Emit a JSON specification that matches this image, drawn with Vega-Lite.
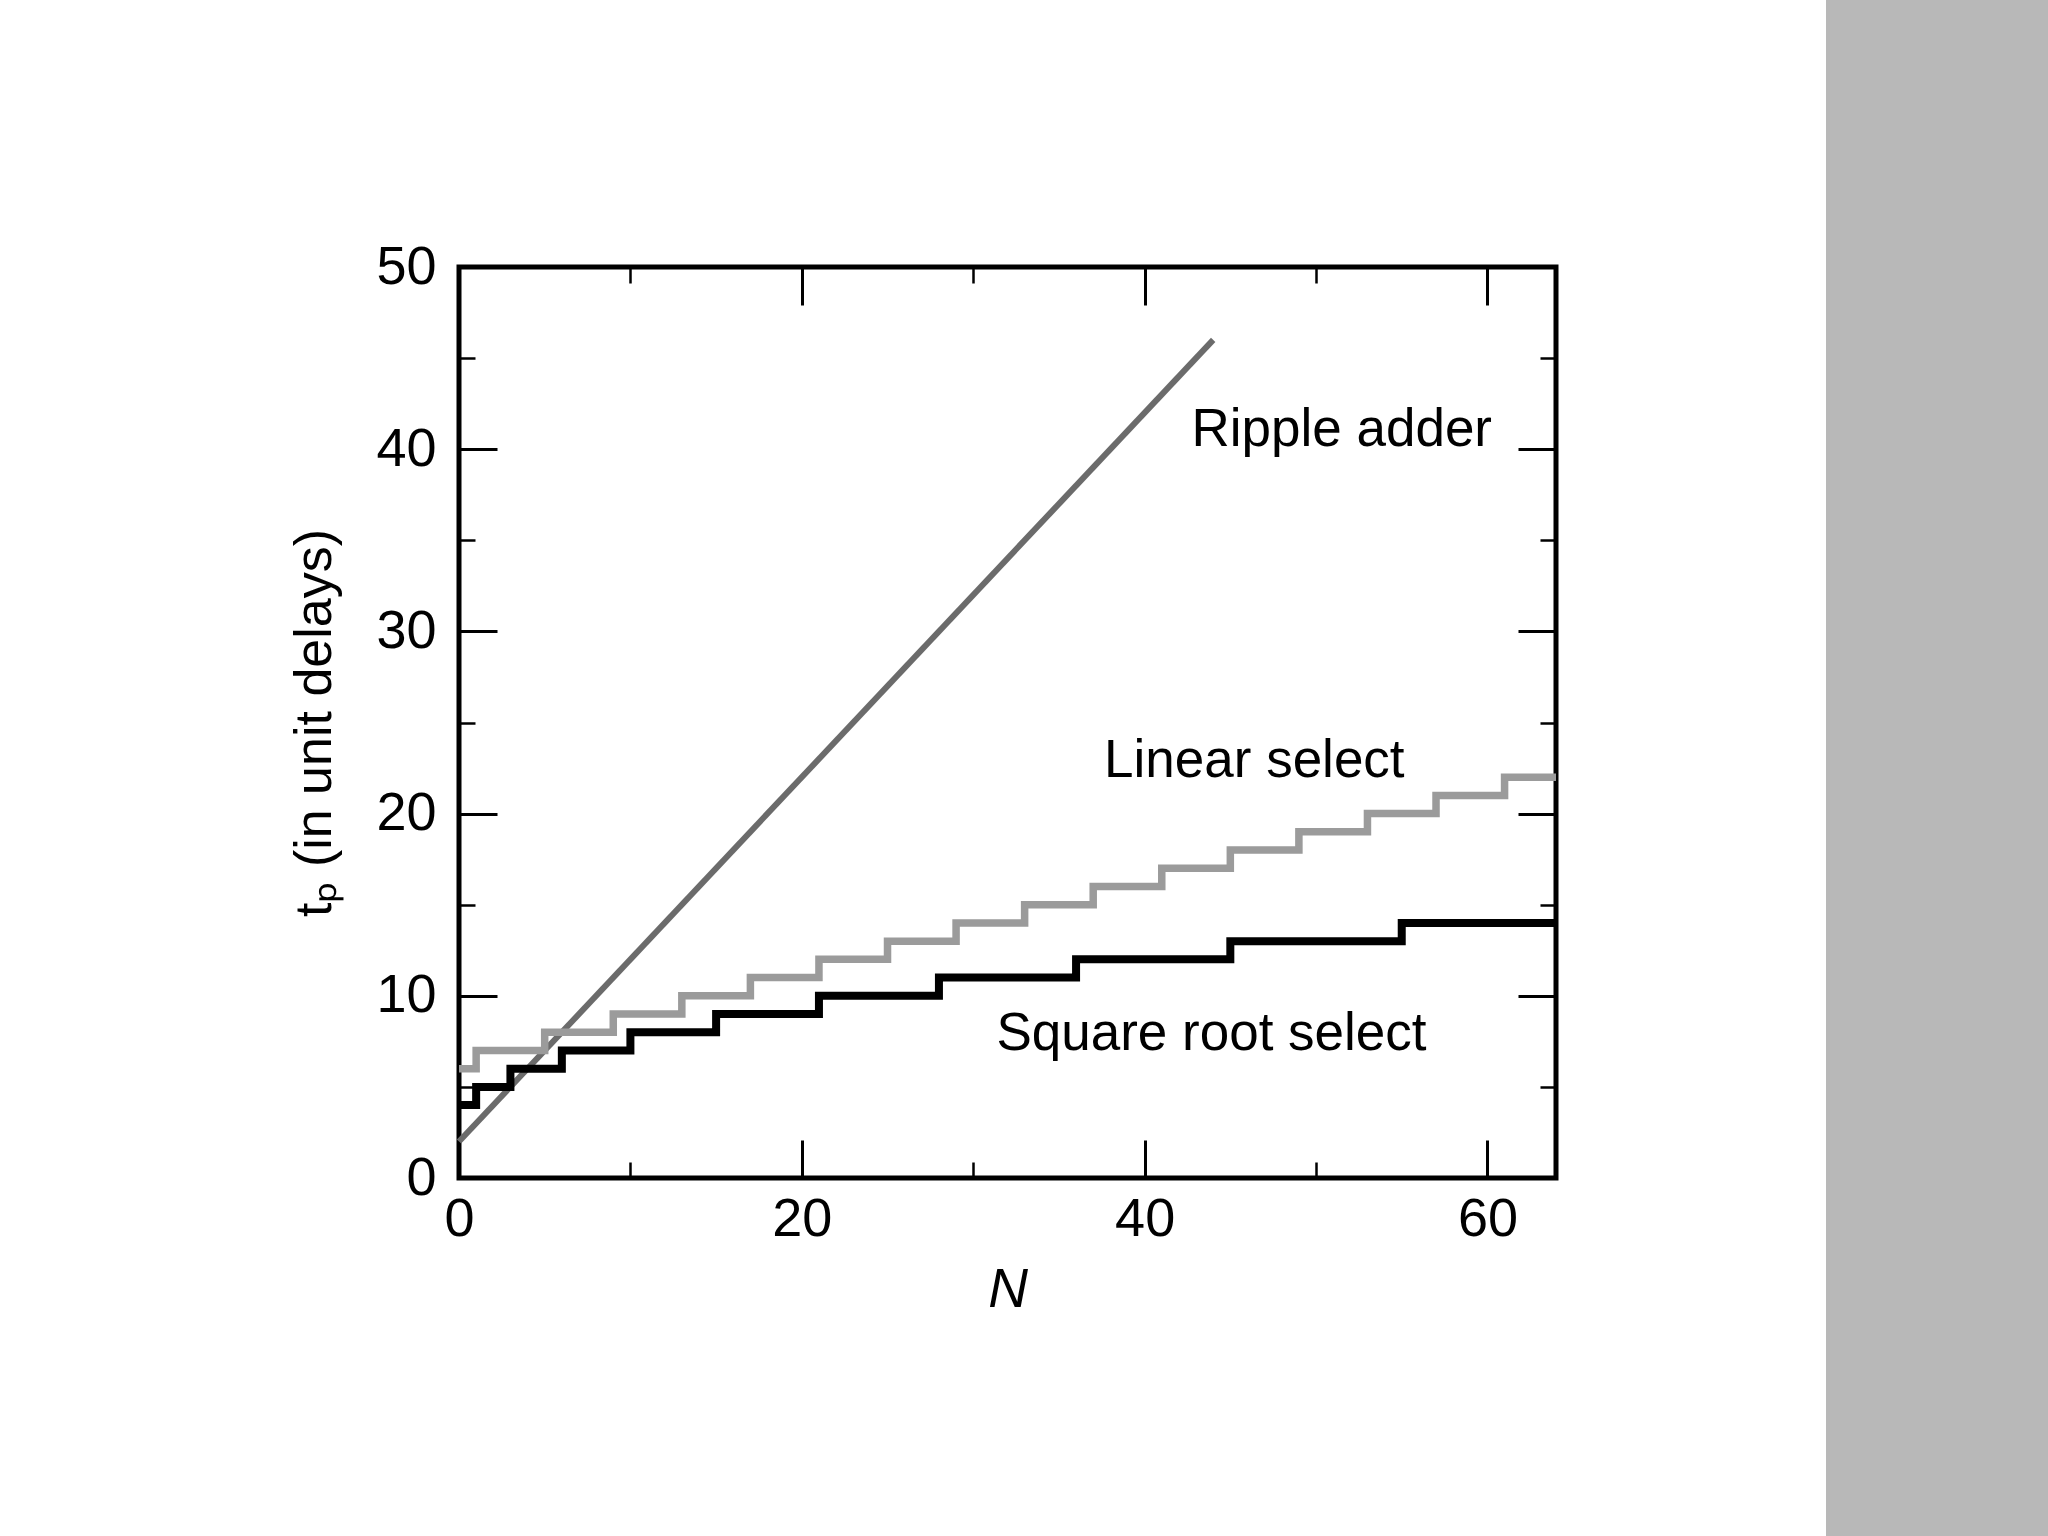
{
  "$schema": "https://vega.github.io/schema/vega-lite/v6.json",
  "background": "white",
  "padding": {"left": 286, "top": 0, "right": 0, "bottom": 0},
  "spacing": 251,
  "config": {"font": "Liberation Sans"},
  "datasets": {
    "ripple": [{"N": 0, "t": 2}, {"N": 44, "t": 46}],
    "linear": [
      {"N": 0, "t": 6}, {"N": 1, "t": 7}, {"N": 5, "t": 8}, {"N": 9, "t": 9},
      {"N": 13, "t": 10}, {"N": 17, "t": 11}, {"N": 21, "t": 12}, {"N": 25, "t": 13},
      {"N": 29, "t": 14}, {"N": 33, "t": 15}, {"N": 37, "t": 16}, {"N": 41, "t": 17},
      {"N": 45, "t": 18}, {"N": 49, "t": 19}, {"N": 53, "t": 20}, {"N": 57, "t": 21},
      {"N": 61, "t": 22}, {"N": 64, "t": 22}
    ],
    "sqrt": [
      {"N": 0, "t": 4}, {"N": 1, "t": 5}, {"N": 3, "t": 6}, {"N": 6, "t": 7},
      {"N": 10, "t": 8}, {"N": 15, "t": 9}, {"N": 21, "t": 10}, {"N": 28, "t": 11},
      {"N": 36, "t": 12}, {"N": 45, "t": 13}, {"N": 55, "t": 14}, {"N": 64, "t": 14}
    ],
    "labels": [
      {"N": 51.5, "t": 40.2, "label": "Ripple adder"},
      {"N": 46.4, "t": 22.0, "label": "Linear select"},
      {"N": 43.9, "t": 7.0, "label": "Square root select"}
    ]
  },
  "hconcat": [
    {
      "spacing": 0,
      "vconcat": [
        {
          "width": 1097,
          "height": 237,
          "view": {"fill": "white", "stroke": null},
          "data": {"values": []},
          "mark": {"type": "point", "opacity": 0},
          "encoding": {}
        },
        {
          "width": 1097,
          "height": 911,
          "view": {"stroke": "black", "strokeWidth": 5, "fill": "white"},
          "resolve": {"axis": {"x": "independent", "y": "independent"}},
          "layer": [
            {
              "data": {"name": "ripple"},
              "mark": {"type": "line", "color": "#6b6b6b", "strokeWidth": 6},
              "encoding": {
                "x": {"field": "N", "type": "quantitative", "scale": {"domain": [0, 64], "nice": false, "zero": false},
                  "axis": {"orient": "bottom", "values": [0, 20, 40, 60], "tickSize": -38, "tickWidth": 3, "tickColor": "black",
                    "domain": false, "grid": false, "labelFont": "Liberation Sans", "labelFontSize": 54, "labelColor": "black",
                    "labelPadding": 52, "labelFlush": false, "labelOverlap": false,
                    "title": "N", "titleFont": "Liberation Sans", "titleFontStyle": "italic", "titleFontWeight": "normal",
                    "titleFontSize": 55, "titleColor": "black", "titlePadding": 17}},
                "y": {"field": "t", "type": "quantitative", "scale": {"domain": [0, 50], "nice": false, "zero": false},
                  "axis": {"orient": "left", "values": [0, 10, 20, 30, 40, 50], "tickSize": -38, "tickWidth": 3, "tickColor": "black",
                    "domain": false, "grid": false, "labelFont": "Liberation Sans", "labelFontSize": 54, "labelColor": "black",
                    "labelPadding": 61, "labelFlush": false, "labelOverlap": false,
                    "title": "tₚ (in unit delays)", "titleFont": "Liberation Sans", "titleFontWeight": "normal",
                    "titleFontSize": 52, "titleColor": "black", "titlePadding": 34}}
              }
            },
            {
              "data": {"name": "linear"},
              "mark": {"type": "line", "color": "#9b9b9b", "strokeWidth": 7.5, "interpolate": "step-after"},
              "encoding": {
                "x": {"field": "N", "type": "quantitative", "scale": {"domain": [0, 64], "nice": false, "zero": false},
                  "axis": {"orient": "bottom", "values": [10, 30, 50], "tickSize": -16, "tickWidth": 2.5, "tickColor": "black",
                    "domain": false, "grid": false, "labels": false, "title": null}},
                "y": {"field": "t", "type": "quantitative", "scale": {"domain": [0, 50], "nice": false, "zero": false},
                  "axis": {"orient": "left", "values": [5, 15, 25, 35, 45], "tickSize": -16, "tickWidth": 2.5, "tickColor": "black",
                    "domain": false, "grid": false, "labels": false, "title": null}}
              }
            },
            {
              "data": {"name": "sqrt"},
              "mark": {"type": "line", "color": "black", "strokeWidth": 8, "interpolate": "step-after"},
              "encoding": {
                "x": {"field": "N", "type": "quantitative", "scale": {"domain": [0, 64], "nice": false, "zero": false},
                  "axis": {"orient": "top", "values": [0, 20, 40, 60], "tickSize": -38, "tickWidth": 3, "tickColor": "black",
                    "domain": false, "grid": false, "labels": false, "title": null}},
                "y": {"field": "t", "type": "quantitative", "scale": {"domain": [0, 50], "nice": false, "zero": false},
                  "axis": {"orient": "right", "values": [0, 10, 20, 30, 40, 50], "tickSize": -38, "tickWidth": 3, "tickColor": "black",
                    "domain": false, "grid": false, "labels": false, "title": null}}
              }
            },
            {
              "data": {"name": "labels"},
              "mark": {"type": "text", "font": "Liberation Sans", "fontSize": 53, "color": "black", "align": "center", "baseline": "alphabetic"},
              "encoding": {
                "x": {"field": "N", "type": "quantitative", "scale": {"domain": [0, 64], "nice": false, "zero": false},
                  "axis": {"orient": "top", "values": [10, 30, 50], "tickSize": -16, "tickWidth": 2.5, "tickColor": "black",
                    "domain": false, "grid": false, "labels": false, "title": null}},
                "y": {"field": "t", "type": "quantitative", "scale": {"domain": [0, 50], "nice": false, "zero": false},
                  "axis": {"orient": "right", "values": [5, 15, 25, 35, 45], "tickSize": -16, "tickWidth": 2.5, "tickColor": "black",
                    "domain": false, "grid": false, "labels": false, "title": null}},
                "text": {"field": "label", "type": "nominal"}
              }
            }
          ]
        }
      ]
    },
    {
      "width": 222,
      "height": 1536,
      "view": {"fill": "#b8b8b8", "stroke": null},
      "data": {"values": []},
      "mark": {"type": "point", "opacity": 0},
      "encoding": {}
    }
  ]
}
